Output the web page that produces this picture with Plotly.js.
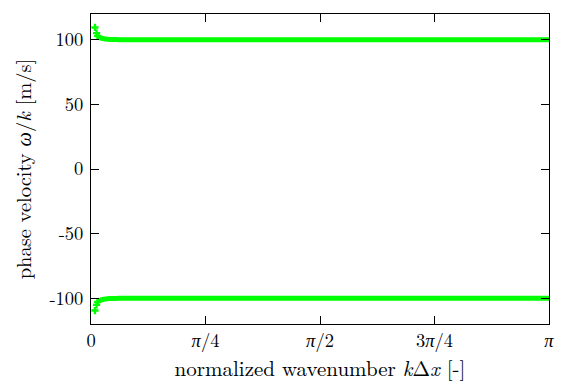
<!DOCTYPE html>
<html>
<head>
<meta charset="utf-8">
<script src="https://cdn.plot.ly/plotly-3.0.1.min.js"></script>
<style>
html,body{margin:0;padding:0;background:#fff;}
#chart{width:563px;height:383px;}
#chart svg text{font-family:'Latin Modern Roman','Liberation Serif',serif !important;}
</style>
</head>
<body>
<div id="chart"></div>
<script>
// normalized wavenumber k*dx [rad]
const kdx = [0.027, 0.038, 0.046, 0.055, 0.065, 0.08, 0.1, 0.13, 0.17, 0.22, 0.3, 0.4, 0.5, 0.75, 1.0, 1.25, 1.5, 1.75, 2.0, 2.25, 2.5, 2.75, 3.0, 3.1416];
// phase velocity, positive branch [m/s]
const vPos = [109.6, 105.2, 103.0, 102.0, 101.5, 101.0, 100.6, 100.35, 100.2, 100.1, 100.05, 100.02, 100, 100, 100, 100, 100, 100, 100, 100, 100, 100, 100, 100];
// phase velocity, negative branch [m/s]
const vNeg = [-109.6, -105.2, -103.0, -102.0, -101.5, -101.0, -100.6, -100.35, -100.2, -100.1, -100.05, -100.02, -100, -100, -100, -100, -100, -100, -100, -100, -100, -100, -100, -100];
const xTickVals = [0, Math.PI/4, Math.PI/2, 3*Math.PI/4, Math.PI];
const xTickText = ['0', '<i>π</i>/4', '<i>π</i>/2', '3<i>π</i>/4', '<i>π</i>'];
const yTickVals = [-100, -50, 0, 50, 100];
const yTickText = ['-100', '-50', '0', '50', '100'];

const green = '#00ff00';
const lineStyle = {mode: 'lines', line: {color: green, width: 5, shape: 'spline', smoothing: 0.6}, showlegend: false, hoverinfo: 'skip'};
const markStyle = {mode: 'markers', marker: {symbol: 'cross', size: 6, color: green}, showlegend: false, hoverinfo: 'skip'};
const data = [
  Object.assign({x: kdx.slice(0, 3), y: vPos.slice(0, 3)}, markStyle),
  Object.assign({x: kdx.slice(2), y: vPos.slice(2)}, lineStyle),
  Object.assign({x: kdx.slice(0, 3), y: vNeg.slice(0, 3)}, markStyle),
  Object.assign({x: kdx.slice(2), y: vNeg.slice(2)}, lineStyle)
];
const fam = 'Latin Modern Roman';
const layout = {
  width: 563, height: 383,
  margin: {l: 91, r: 14, t: 14, b: 59},
  paper_bgcolor: '#fff', plot_bgcolor: '#fff',
  font: {family: fam, size: 18, color: '#000'},
  xaxis: {
    range: [0, Math.PI], tickvals: xTickVals, ticktext: xTickText,
    ticks: 'inside', ticklen: 8, tickcolor: '#000', mirror: 'ticks',
    showline: true, linecolor: '#000', linewidth: 1, showgrid: false, zeroline: false,
    tickfont: {family: fam, size: 18.5, color: '#000'}, ticklabelstandoff: 0,
    title: {text: 'normalized wavenumber <i>k</i>Δ<i>x</i> [-]', font: {family: fam, size: 21, color: '#000'}, standoff: 3}
  },
  yaxis: {
    range: [-120, 120], tickvals: yTickVals, ticktext: yTickText,
    ticks: 'inside', ticklen: 8, tickcolor: '#000', mirror: 'ticks',
    showline: true, linecolor: '#000', linewidth: 1, showgrid: false, zeroline: false,
    tickfont: {family: fam, size: 18.5, color: '#000'}, ticklabelstandoff: 3,
    title: {text: 'phase velocity <i>ω</i>/<i>k</i> [m/s]', font: {family: fam, size: 20.5, color: '#000'}, standoff: 12}
  }
};
Plotly.newPlot('chart', data, layout, {displayModeBar: false, staticPlot: true});
</script>
</body>
</html>
